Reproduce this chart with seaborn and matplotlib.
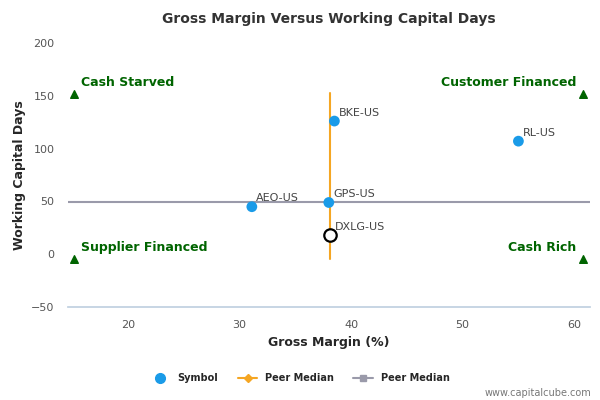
import matplotlib
matplotlib.use("Agg")
import matplotlib.pyplot as plt
import seaborn as sns
from matplotlib.lines import Line2D

sns.set_theme(style="white")
plt.rcParams['font.family'] = ['DejaVu Sans']

symbols = ["BKE-US", "RL-US", "AEO-US", "GPS-US"]
gross_margin = [38.5, 55.0, 31.1, 38.0]
wc_days = [126, 107, 45, 49]
focus_symbol = "DXLG-US"
focus_x, focus_y = 38.1, 18
median_x = 38.1
median_y = 49.5
vline_y = [-4, 153]
corner_x = [15.2, 60.8, 15.2, 60.8]
corner_y = [152, 152, -4, -4]
corner_labels = ["Cash Starved", "Customer Financed", "Supplier Financed", "Cash Rich"]

fig, ax = plt.subplots(figsize=(6, 4), dpi=100)
fig.subplots_adjust(left=0.113, right=0.983, top=0.893, bottom=0.232)
ax.set_xlim(14.6, 61.4)
ax.set_ylim(-50, 200)

ax.axhline(median_y, color="#9a9aaa", lw=1.5, zorder=1)
ax.plot([median_x, median_x], vline_y, color="#f5a623", lw=1.5, zorder=2)
sns.scatterplot(x=gross_margin, y=wc_days, ax=ax, color="#1a9be8", s=60, edgecolor="none", zorder=3)
ax.scatter([focus_x], [focus_y], s=80, facecolor="white", edgecolor="black", lw=1.6, zorder=4)
for s, x, y in zip(symbols, gross_margin, wc_days):
    ax.text(x + 0.4, y + 5, s, fontsize=8, color="#444444")
ax.text(focus_x + 0.4, focus_y + 5, focus_symbol, fontsize=8, color="#444444")

ax.scatter(corner_x, corner_y, marker="^", color="#006400", s=30, zorder=3, clip_on=False)
for i, (x, y, t) in enumerate(zip(corner_x, corner_y, corner_labels)):
    ha = "left" if i % 2 == 0 else "right"
    dx = 0.6 if ha == "left" else -0.6
    ax.text(x + dx, y + 4, t, ha=ha, va="bottom", fontsize=9, fontweight="bold", color="#006400")

ax.set_xticks([20, 30, 40, 50, 60])
ax.set_yticks([-50, 0, 50, 100, 150, 200])
ax.tick_params(labelsize=8, colors="#555555")
ax.set_xlabel("Gross Margin (%)", fontsize=9, fontweight="bold")
ax.set_ylabel("Working Capital Days", fontsize=9, fontweight="bold")
ax.set_title("Gross Margin Versus Working Capital Days", fontsize=10, fontweight="bold", color="#333333", pad=14)
for sp in ["top", "right", "left"]:
    ax.spines[sp].set_visible(False)
ax.spines["bottom"].set_color("#c0d0e0")

handles = [
    Line2D([], [], marker="o", color="#1a9be8", ls="none", ms=7),
    Line2D([], [], marker="D", color="#f5a623", ms=4, lw=1.5),
    Line2D([], [], marker="s", color="#9a9aaa", ms=5, lw=1.5),
]
fig.legend(handles, ["Symbol", "Peer Median", "Peer Median"], loc="lower center",
           bbox_to_anchor=(0.5, 0.02), ncol=3, frameon=False, prop={"size": 7, "weight": "bold"})
fig.text(0.985, 0.01, "www.capitalcube.com", ha="right", fontsize=7, color="#777777")
fig.savefig("out.png", dpi=100)
